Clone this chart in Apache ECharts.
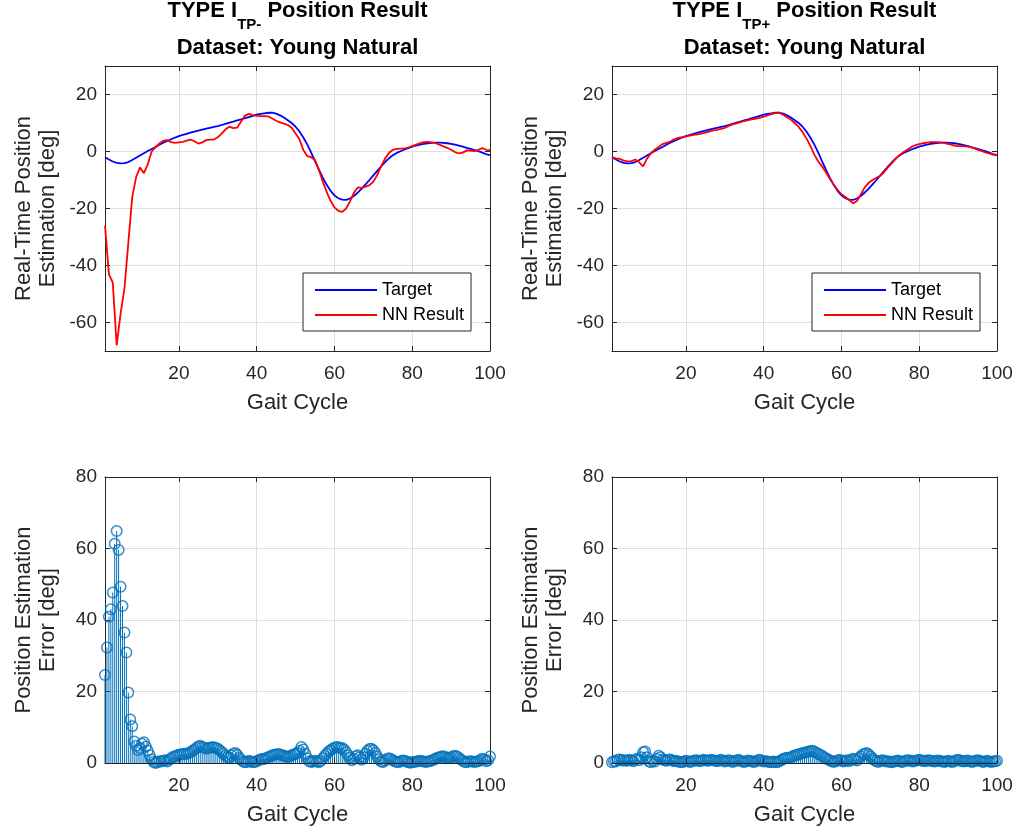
<!DOCTYPE html>
<html>
<head>
<meta charset="utf-8">
<title>Position Result</title>
<script src="https://cdn.jsdelivr.net/npm/echarts@6/dist/echarts.min.js"></script>
<style>
  html, body { margin: 0; padding: 0; background: #ffffff; }
  #chart { width: 1024px; height: 834px; }
</style>
</head>
<body>
<div id="chart"></div>
<script>
// ---- data ---------------------------------------------------------------
// Joint position over one gait cycle (samples at 1, 2, ..., 100)
const target = [
  -2.0, -2.8, -3.5, -4.0, -4.2, -4.1, -3.7, -3.0, -2.2, -1.4,
  -0.6, 0.2, 0.9, 1.6, 2.4, 3.1, 3.7, 4.3, 4.9, 5.4,
  5.8, 6.2, 6.6, 7.0, 7.3, 7.7, 8.0, 8.3, 8.6, 8.9,
  9.3, 9.7, 10.1, 10.5, 10.9, 11.3, 11.7, 12.1, 12.5, 12.9,
  13.2, 13.4, 13.6, 13.6, 13.3, 12.7, 11.9, 11.0, 10.0, 8.7,
  7.0, 4.9, 2.5, -0.3, -3.4, -6.4, -9.2, -11.7, -13.8, -15.4,
  -16.4, -16.9, -17.0, -16.5, -15.6, -14.4, -13.0, -11.5, -10.0, -8.4,
  -6.8, -5.2, -3.7, -2.4, -1.3, -0.5, 0.1, 0.7, 1.2, 1.7,
  2.1, 2.4, 2.7, 2.9, 3.0, 3.1, 3.1, 3.0, 2.9, 2.7,
  2.4, 2.1, 1.7, 1.3, 0.9, 0.5, 0.1, -0.4, -0.9, -1.3
];

// Network estimate, TYPE I TP- model
const nnMinus = [
  -26, -43, -46, -68, -57, -48, -32, -16, -9, -5.6,
  -7.6, -4.5, 0.0, 1.5, 2.8, 3.8, 4.0, 3.3, 3.0, 3.2,
  3.4, 3.8, 4.2, 3.6, 2.8, 3.2, 4.0, 4.2, 4.2, 5.0,
  6.3, 7.8, 8.7, 8.2, 8.4, 10.5, 12.6, 13.2, 12.8, 12.5,
  12.4, 12.4, 12.3, 11.6, 10.8, 10.2, 9.8, 9.3, 8.3, 6.3,
  4.3, 0.5, -1.6, -2.0, -3.0, -6.5, -10.5, -14.2, -17.3, -19.6,
  -20.8, -21.2, -20.0, -17.5, -14.5, -12.6, -12.8, -12.3, -11.8, -10.6,
  -8.2, -5.2, -2.5, -0.5, 0.6, 0.9, 1.0, 1.1, 1.4, 1.9,
  2.4, 2.9, 3.3, 3.4, 3.2, 2.9, 2.4, 1.8, 1.3, 0.6,
  -0.2, -0.7, -0.4, 0.4, 0.3, 0.1, 0.6, 1.2, 0.6, 0.5
];

// Network estimate, TYPE I TP+ model
const nnPlus = [
  -2.0, -2.4, -2.6, -3.2, -3.5, -3.4, -2.8, -3.8, -5.2, -2.5,
  -0.6, 0.6, 1.6, 2.6, 3.0, 3.5, 4.3, 4.8, 5.0, 5.3,
  5.6, 5.8, 6.0, 6.3, 6.6, 7.0, 7.4, 7.6, 7.9, 8.3,
  9.0, 9.5, 9.9, 10.3, 10.7, 11.0, 11.3, 11.5, 11.8, 12.2,
  12.7, 13.1, 13.5, 13.6, 12.9, 12.0, 11.2, 10.0, 8.6, 6.8,
  4.6, 2.0, -1.0, -3.4, -5.2, -7.3, -9.6, -11.6, -13.5, -15.0,
  -16.0, -17.0, -18.2, -17.4, -15.0, -12.6, -11.0, -10.0, -9.2, -8.5,
  -7.2, -5.5, -4.0, -2.5, -1.2, -0.2, 0.7, 1.6, 2.2, 2.6,
  2.9, 3.1, 3.3, 3.3, 3.3, 3.1, 2.8, 2.5, 2.1, 1.9,
  1.9, 1.8, 1.6, 1.2, 0.6, 0.2, -0.3, -0.7, -1.1, -1.4
];

// Absolute estimation error, sampled every half step (1, 1.5, ..., 100)
const errMinus = [
  24.6, 32.3, 40.9, 43.0, 47.7, 61.3, 64.9, 59.6, 49.3, 43.9,
  36.5, 30.9, 19.7, 12.2, 10.3, 6.0, 4.8, 3.6, 4.2, 5.4,
  5.8, 4.6, 3.4, 2.2, 1.0, 0.3, 0.0, 0.2, 0.5, 0.4,
  0.6, 0.8, 0.4, 0.9, 1.3, 1.7, 1.9, 2.1, 2.3, 2.4,
  2.5, 2.6, 2.5, 2.8, 3.0, 3.4, 3.7, 4.2, 4.6, 4.8,
  4.5, 4.3, 4.0, 4.2, 4.3, 4.4, 4.4, 4.2, 4.0, 3.6,
  3.1, 2.6, 2.0, 1.6, 1.5, 2.2, 2.6, 2.8, 2.3, 1.5,
  0.9, 0.4, 0.2, 0.3, 0.6, 0.4, 0.2, 0.3, 0.5, 0.8,
  1.0, 1.2, 1.1, 1.4, 1.6, 1.9, 2.1, 2.3, 2.4, 2.5,
  2.4, 2.2, 2.0, 1.8, 1.7, 1.9, 2.2, 2.4, 2.5, 2.8,
  3.4, 4.5, 3.8, 2.6, 1.3, 0.5, 0.3, 0.4, 0.6, 0.4,
  0.2, 0.6, 1.3, 2.0, 2.6, 3.2, 3.6, 4.0, 4.3, 4.5,
  4.4, 4.2, 4.2, 3.8, 3.0, 2.2, 1.4, 0.8, 1.2, 1.9,
  2.2, 1.6, 0.9, 1.6, 2.6, 3.4, 3.9, 4.0, 3.6, 2.8,
  1.8, 1.0, 0.4, 0.3, 0.7, 1.1, 1.3, 1.1, 0.8, 0.5,
  0.3, 0.2, 0.5, 0.7, 0.6, 0.4, 0.2, 0.1, 0.2, 0.3,
  0.4, 0.5, 0.6, 0.5, 0.4, 0.3, 0.4, 0.5, 0.7, 0.9,
  1.2, 1.5, 1.6, 1.8, 1.9, 1.7, 1.5, 1.4, 1.6, 1.9,
  2.0, 1.8, 1.4, 1.0, 0.6, 0.3, 0.2, 0.4, 0.5, 0.4,
  0.3, 0.4, 0.5, 0.8, 1.2, 1.0, 0.5, 0.8, 1.8
];

const errPlus = [
  0.2, 0.5, 0.4, 0.9, 1.0, 0.7, 0.8, 0.6, 0.7, 0.9,
  0.7, 0.5, 0.9, 1.2, 0.8, 1.6, 3.0, 3.2, 1.6, 0.5,
  0.2, 0.6, 0.4, 1.2, 2.0, 1.6, 1.0, 0.8, 0.6, 0.9,
  1.0, 0.7, 0.5, 0.6, 0.4, 0.3, 0.2, 0.4, 0.6, 0.5,
  0.3, 0.4, 0.6, 0.8, 0.7, 0.5, 0.6, 0.9, 0.8, 0.6,
  0.7, 0.9, 0.8, 0.6, 0.5, 0.7, 0.9, 0.6, 0.4, 0.6,
  0.8, 0.6, 0.3, 0.5, 0.7, 0.9, 0.6, 0.4, 0.3, 0.5,
  0.7, 0.6, 0.4, 0.3, 0.5, 0.8, 0.9, 0.6, 0.4, 0.5,
  0.4, 0.3, 0.2, 0.4, 0.3, 0.2, 0.5, 0.8, 1.1, 1.3,
  1.5, 1.4, 1.6, 1.9, 2.1, 2.3, 2.4, 2.6, 2.8, 2.9,
  3.0, 3.2, 3.3, 3.4, 3.2, 2.9, 2.6, 2.3, 2.0, 1.6,
  1.3, 1.0, 0.8, 0.5, 0.3, 0.5, 0.7, 0.9, 0.6, 0.4,
  0.6, 0.8, 0.5, 0.9, 1.2, 1.0, 0.7, 1.3, 1.9, 2.4,
  2.6, 2.8, 2.4, 1.8, 1.2, 0.8, 0.5, 0.3, 0.6, 0.8,
  0.6, 0.4, 0.5, 0.3, 0.2, 0.4, 0.5, 0.7, 0.5, 0.3,
  0.4, 0.6, 0.8, 0.7, 0.5, 0.4, 0.6, 0.8, 0.9, 0.7,
  0.6, 0.5, 0.7, 0.8, 0.6, 0.5, 0.4, 0.6, 0.7, 0.5,
  0.4, 0.3, 0.5, 0.6, 0.4, 0.3, 0.5, 0.8, 0.9, 0.7,
  0.5, 0.4, 0.6, 0.7, 0.5, 0.3, 0.4, 0.6, 0.8, 0.6,
  0.4, 0.3, 0.5, 0.6, 0.4, 0.3, 0.4, 0.5, 0.6
];

const cycleStart = 1;       // first gait-cycle sample
const curveStep = 1;        // spacing of the position samples
const errStep = 0.5;        // spacing of the error samples

const xTickValues = [20, 40, 60, 80, 100];
const posTickValues = [-60, -40, -20, 0, 20];
const errTickValues = [0, 20, 40, 60, 80];

const legendNames = ['Target', 'NN Result'];
const datasetLine = 'Dataset: Young Natural';

// ---- styling ------------------------------------------------------------
const FONT = '"Liberation Sans", Arial, Helvetica, sans-serif';
const INK = '#262626';
const GRID_LINE = '#dfdfdf';
const STEM = '#0072bd';
const BLUE = '#0000ff';
const RED = '#ff0000';

const panels = [
  { left: 105, top: 66, width: 385, height: 285 },   // position, TP-
  { left: 612, top: 66, width: 385, height: 285 },   // position, TP+
  { left: 105, top: 477, width: 385, height: 286 },  // error, TP-
  { left: 612, top: 477, width: 385, height: 286 }   // error, TP+
];

const toPairs = (values, step) => values.map((v, i) => [cycleStart + i * step, v]);

function tick(values) {
  return { show: true, inside: true, length: 5, customValues: values, lineStyle: { color: INK, width: 1 } };
}
function line() {
  return { show: true, onZero: false, lineStyle: { color: INK, width: 1 } };
}
function split() {
  return { show: true, lineStyle: { color: GRID_LINE, width: 1 } };
}
function nameStyle() {
  return { fontFamily: FONT, fontSize: 22, color: INK, lineHeight: 24 };
}

function xAxesFor(g, baselineOnTop) {
  return [
    {
      gridIndex: g, type: 'value', position: 'bottom', min: 1, max: 100,
      axisLine: line(), axisTick: tick(xTickValues),
      axisLabel: { customValues: xTickValues, color: INK, fontFamily: FONT, fontSize: 19, margin: 13 },
      splitLine: baselineOnTop ? { show: false } : split(),
      name: 'Gait Cycle', nameLocation: 'middle', nameGap: 40, nameMoveOverlap: false,
      nameTextStyle: nameStyle(),
      z: baselineOnTop ? 5 : 0
    },
    {
      gridIndex: g, type: 'value', position: 'top', min: 1, max: 100,
      axisLine: line(), axisTick: tick(xTickValues),
      axisLabel: { show: false },
      splitLine: baselineOnTop ? split() : { show: false }
    }
  ];
}

function yAxesFor(g, min, max, ticks, name) {
  return [
    {
      gridIndex: g, type: 'value', position: 'left', min: min, max: max,
      axisLine: line(), axisTick: tick(ticks),
      axisLabel: { customValues: ticks, color: INK, fontFamily: FONT, fontSize: 19, margin: 8 },
      splitLine: split(),
      name: name, nameLocation: 'middle', nameGap: 45, nameRotate: 90, nameMoveOverlap: false,
      nameTextStyle: nameStyle()
    },
    {
      gridIndex: g, type: 'value', position: 'right', min: min, max: max,
      axisLine: line(), axisTick: tick(ticks),
      axisLabel: { show: false }, splitLine: { show: false }
    }
  ];
}

// first title line, with the model tag set as a subscript of "I"
function headline(centerX, tag) {
  return {
    left: centerX, top: 0, padding: 0, textAlign: 'center',
    text: '{m|TYPE I}{s|' + tag + '}{m| Position Result}',
    textStyle: {
      rich: {
        m: { fontFamily: FONT, fontSize: 22, fontWeight: 'bold', color: '#000', lineHeight: 20, verticalAlign: 'top' },
        s: { fontFamily: FONT, fontSize: 15, fontWeight: 'bold', color: '#000', lineHeight: 16, padding: [17, 0, 0, 0], verticalAlign: 'top' }
      }
    }
  };
}
// second title line
function subline(centerX) {
  return {
    left: centerX, top: 36, padding: 0, textAlign: 'center',
    text: datasetLine,
    textStyle: { fontFamily: FONT, fontSize: 22, fontWeight: 'bold', color: '#000', lineHeight: 24 }
  };
}

function legendAt(left) {
  return {
    left: left, top: 273, orient: 'vertical', data: legendNames,
    icon: 'rect', itemWidth: 62, itemHeight: 2, itemGap: 5,
    padding: [7, 7, 6, 12],
    borderColor: INK, borderWidth: 1, borderRadius: 0, backgroundColor: '#ffffff',
    selectedMode: false,
    textStyle: { fontFamily: FONT, fontSize: 18, color: '#000', lineHeight: 20 }
  };
}

function curve(name, values, color, axisIdx) {
  return {
    type: 'line', name: name, xAxisIndex: axisIdx, yAxisIndex: axisIdx,
    data: toPairs(values, curveStep),
    symbol: 'none', showSymbol: false, silent: true,
    lineStyle: { color: color, width: 1.8 }, itemStyle: { color: color }
  };
}

function stems(values, axisIdx) {
  const pts = toPairs(values, errStep);
  return [
    {
      type: 'custom', xAxisIndex: axisIdx, yAxisIndex: axisIdx, data: pts,
      encode: { x: 0, y: 1 }, silent: true, z: 2,
      renderItem: (params, api) => {
        const base = api.coord([api.value(0), 0]);
        const tip = api.coord([api.value(0), api.value(1)]);
        return {
          type: 'line',
          shape: { x1: base[0], y1: base[1], x2: tip[0], y2: tip[1] },
          style: { stroke: STEM, lineWidth: 1 }
        };
      }
    },
    {
      type: 'scatter', xAxisIndex: axisIdx, yAxisIndex: axisIdx, data: pts,
      symbol: 'circle', symbolSize: 10.5, silent: true, z: 3,
      itemStyle: { color: 'rgba(0,0,0,0)', borderColor: STEM, borderWidth: 1.5 }
    }
  ];
}

// axis pairs: index 2*g is the labelled axis, 2*g+1 the plain frame side
const xAxes = [].concat(xAxesFor(0, false), xAxesFor(1, false), xAxesFor(2, true), xAxesFor(3, true));
const yAxes = [].concat(
  yAxesFor(0, -70, 30, posTickValues, 'Real-Time Position\nEstimation [deg]'),
  yAxesFor(1, -70, 30, posTickValues, 'Real-Time Position\nEstimation [deg]'),
  yAxesFor(2, 0, 80, errTickValues, 'Position Estimation\nError [deg]'),
  yAxesFor(3, 0, 80, errTickValues, 'Position Estimation\nError [deg]')
);

const option = {
  animation: false,
  backgroundColor: '#ffffff',
  textStyle: { fontFamily: FONT },
  title: [headline(297.5, 'TP-'), subline(297.5), headline(804.5, 'TP+'), subline(804.5)],
  legend: [legendAt(303), legendAt(812)],
  grid: panels.map(p => Object.assign({ outerBoundsMode: 'none', containLabel: false, show: false }, p)),
  xAxis: xAxes,
  yAxis: yAxes,
  series: [].concat(
    [curve('Target', target, BLUE, 0), curve('NN Result', nnMinus, RED, 0)],
    [curve('Target', target, BLUE, 2), curve('NN Result', nnPlus, RED, 2)],
    stems(errMinus, 4),
    stems(errPlus, 6)
  )
};

const chart = echarts.init(document.getElementById('chart'), null, { renderer: 'canvas' });
chart.setOption(option);
</script>
</body>
</html>
